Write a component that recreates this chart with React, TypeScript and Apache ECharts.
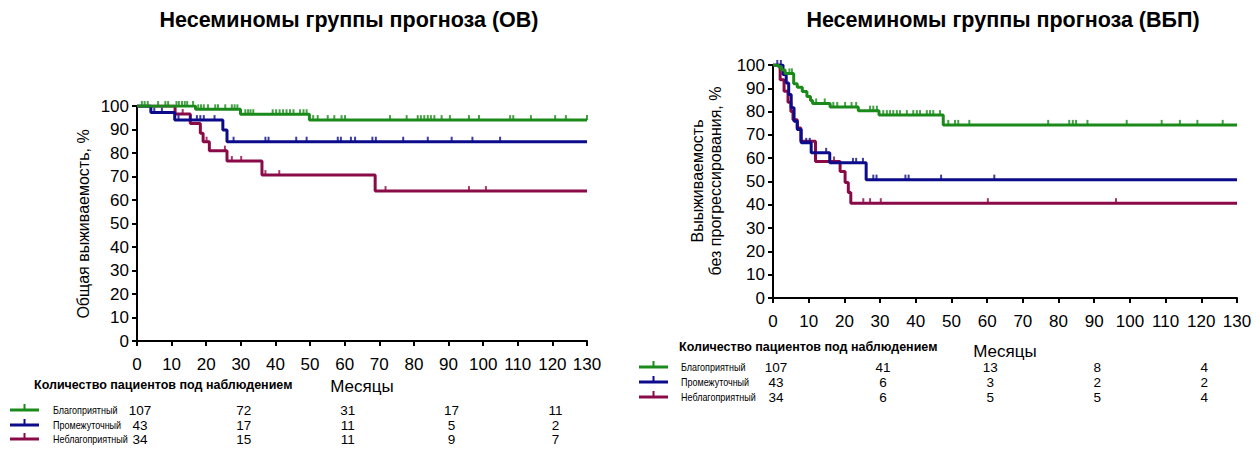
import React, { useEffect, useRef } from 'react';
import * as echarts from 'echarts';

// ---------- data ----------
const monthsMax = 130;
const tableMonths = [0, 30, 60, 90, 120];
const groupNames = ['Благоприятный', 'Промежуточный', 'Неблагоприятный'];

// Overall survival (ОВ)
const favOV = [[0, 100], [16.9, 98.6], [29.9, 96.5], [49.8, 94.0], [130, 94.0]];
const intOV = [[0, 100], [4.0, 97.2], [10.9, 94.0], [24.8, 89.8], [26.0, 84.8], [130, 84.8]];
const unfOV = [[0, 100], [11.0, 96.6], [15.4, 92.6], [18.3, 88.4], [19.1, 84.8], [20.9, 81.0], [26.0, 76.6], [36.1, 70.6], [68.8, 63.8], [130, 63.8]];
const favOVcens = [1.4, 2.2, 3.1, 6.1, 8.2, 9.0, 11.4, 12.1, 13.0, 13.8, 14.5, 16.2, 17.7, 18.5, 19.3, 20.5, 22.6, 23.4, 25.5, 27.4, 28.2, 29.0, 31.3, 32.1, 32.8, 33.6, 39.2, 40.2, 41.2, 42.2, 43.2, 44.2, 45.2, 47.1, 48.1, 49.0, 50.9, 52.2, 55.1, 57.0, 59.1, 60.1, 73.1, 77.9, 81.1, 82.0, 83.0, 84.0, 84.9, 85.9, 88.0, 90.4, 95.9, 98.8, 107.8, 108.7, 113.8, 120.8, 123.9, 130];
const intOVcens = [5.0, 7.2, 12.0, 15.4, 17.3, 18.3, 19.3, 22.4, 27.9, 37.1, 38.0, 46.0, 49.0, 58.0, 58.9, 61.8, 63.0, 68.0, 69.0, 76.9, 84.0, 90.9, 96.9, 104.9];
const unfOVcens = [13.2, 20.1, 25.4, 27.4, 30.1, 37.1, 41.1, 71.8, 95.9, 100.8];
const favOVrisk = [107, 72, 31, 17, 11];
const intOVrisk = [43, 17, 11, 5, 2];
const unfOVrisk = [34, 15, 11, 9, 7];

// Progression-free survival (ВБП)
const favPFS = [[0, 100], [1.5, 99.3], [2.4, 97.9], [3.4, 96.4], [5.8, 92.0], [6.8, 90.5], [8.2, 88.6], [9.5, 86.5], [10.5, 84.8], [11.1, 83.5], [16.0, 82.0], [23.9, 80.4], [29.7, 78.5], [47.7, 74.3], [130, 74.3]];
const intPFS = [[0, 100], [2.8, 95.9], [3.7, 92.3], [4.4, 87.3], [5.1, 81.6], [5.9, 75.9], [6.8, 72.3], [7.9, 66.6], [10.7, 62.3], [15.9, 58.0], [26.1, 50.8], [130, 50.8]];
const unfPFS = [[0, 100], [2.0, 93.7], [3.1, 88.7], [4.2, 84.0], [5.0, 80.0], [5.6, 76.5], [6.8, 73.0], [7.8, 67.3], [11.9, 58.6], [18.8, 54.3], [20.2, 49.6], [21.1, 45.3], [21.8, 40.7], [130, 40.7]];
const favPFScens = [4.6, 5.3, 12.1, 14.5, 16.9, 18.0, 20.2, 22.0, 23.3, 27.2, 28.1, 29.1, 30.9, 31.9, 32.8, 33.7, 34.7, 35.6, 37.5, 39.3, 40.3, 41.2, 43.1, 44.0, 44.9, 46.8, 49.1, 51.0, 51.9, 55.0, 77.1, 83.0, 84.0, 84.9, 88.1, 99.1, 108.9, 114.0, 118.9, 126.0];
const intPFScens = [1.2, 2.2, 9.3, 10.3, 14.9, 22.4, 23.3, 25.2, 28.1, 29.0, 37.1, 38.0, 47.1, 62.0];
const unfPFScens = [17.1, 25.3, 27.2, 30.2, 60.2, 96.1];
const favPFSrisk = [107, 41, 13, 8, 4];
const intPFSrisk = [43, 6, 3, 2, 2];
const unfPFSrisk = [34, 6, 5, 5, 4];

// ---------- styles ----------
const GREEN = '#1a8a1a';
const BLUE = '#0b0b8c';
const RED = '#8a0a48';
const COLORS = [GREEN, BLUE, RED];
const FONT = 'Liberation Sans, Arial, sans-serif';

function levelAt(steps: number[][], t: number) {
  let v = steps[0][1];
  for (const [x, y] of steps) if (x <= t) v = y;
  return v;
}

function stepSeries(steps: number[][], color: string, gi: number, z: number) {
  return {
    type: 'line', step: 'end', xAxisIndex: gi, yAxisIndex: gi, data: steps,
    showSymbol: false, symbol: 'none', silent: true, z,
    lineStyle: { color, width: 3 },
  };
}
function censSeries(steps: number[][], cens: number[], color: string, gi: number, z: number) {
  return {
    type: 'scatter', xAxisIndex: gi, yAxisIndex: gi, silent: true, z: z + 1,
    data: cens.map((t) => [t, levelAt(steps, t)]),
    symbol: 'rect', symbolSize: [2, 5], symbolOffset: [0, -2.5],
    itemStyle: { color },
  };
}

const axisCommon = {
  axisLine: { show: true, onZero: false, lineStyle: { color: '#000', width: 2 } },
  axisTick: { show: true, length: 5, lineStyle: { color: '#000', width: 2 } },
  splitLine: { show: false },
  axisLabel: { color: '#000', fontSize: 17, fontFamily: FONT },
};

export default function App() {
  const ref = useRef<HTMLDivElement>(null);
  useEffect(() => {
    document.body.style.margin = '0';
    const chart = echarts.init(ref.current!, undefined, { renderer: 'svg' });
    const grids = [
      { left: 137, top: 106, width: 450, height: 235 },
      { left: 773, top: 65, width: 464, height: 233 },
    ];
    const option: any = {
      animation: false,
      grid: grids,
      xAxis: [0, 1].map((i) => ({
        type: 'value', gridIndex: i, min: 0, max: monthsMax, interval: 10, ...axisCommon,
        axisLabel: { ...axisCommon.axisLabel, margin: 15 },
      })),
      yAxis: [0, 1].map((i) => ({
        type: 'value', gridIndex: i, min: 0, max: 100, interval: 10, ...axisCommon,
        axisLabel: { ...axisCommon.axisLabel, margin: 8 },
      })),
      series: [
        stepSeries(unfOV, RED, 0, 2), censSeries(unfOV, unfOVcens, RED, 0, 2),
        stepSeries(intOV, BLUE, 0, 4), censSeries(intOV, intOVcens, BLUE, 0, 4),
        stepSeries(favOV, GREEN, 0, 6), censSeries(favOV, favOVcens, GREEN, 0, 6),
        stepSeries(unfPFS, RED, 1, 2), censSeries(unfPFS, unfPFScens, RED, 1, 2),
        stepSeries(intPFS, BLUE, 1, 4), censSeries(intPFS, intPFScens, BLUE, 1, 4),
        stepSeries(favPFS, GREEN, 1, 6), censSeries(favPFS, favPFScens, GREEN, 1, 6),
      ],
    };
    chart.setOption(option);

    const g: any[] = [];
    const txt = (x: number, y: number, text: string, size: number, extra: any = {}) =>
      g.push({
        type: 'text', x, y, silent: true, ...extra,
        style: { text, fill: '#000', fontSize: size, fontFamily: FONT, align: 'center', verticalAlign: 'middle', ...(extra.style || {}) },
      });

    // titles
    txt(349, 20, 'Несеминомы группы прогноза (ОВ)', 21.5, { style: { fontWeight: 'bold' } });
    txt(1003, 20, 'Несеминомы группы прогноза (ВБП)', 21.5, { style: { fontWeight: 'bold' } });
    // y axis names
    txt(83, 224, 'Общая выживаемость, %', 16, { rotation: Math.PI / 2 });
    txt(706, 181, 'Выыживаемость\nбез прогрессирования, %', 16, { rotation: Math.PI / 2, style: { lineHeight: 18 } });

    const tables = [
      { gi: 0, headX: 34, headY: 385, monY: 386, rowsY: [410, 425, 439], legX: 10, labX: 53, rows: [favOVrisk, intOVrisk, unfOVrisk] },
      { gi: 1, headX: 679, headY: 347, monY: 351, rowsY: [367, 382, 397], legX: 639, labX: 681, rows: [favPFSrisk, intPFSrisk, unfPFSrisk] },
    ];
    tables.forEach((tb) => {
      const mx = chart.convertToPixel({ gridIndex: tb.gi } as any, [65, 0]) as number[];
      txt(tb.headX, tb.headY, 'Количество пациентов под наблюдением', 12.5, { style: { fontWeight: 'bold', align: 'left' } });
      txt(mx[0], tb.monY, 'Месяцы', 17);
      tb.rows.forEach((vals, r) => {
        const y = tb.rowsY[r];
        const c = COLORS[r];
        g.push({ type: 'line', silent: true, shape: { x1: tb.legX, y1: y, x2: tb.legX + 29, y2: y }, style: { stroke: c, lineWidth: 3 } });
        g.push({ type: 'line', silent: true, shape: { x1: tb.legX + 14.5, y1: y, x2: tb.legX + 14.5, y2: y - 6 }, style: { stroke: c, lineWidth: 2 } });
        txt(tb.labX, y, groupNames[r], 10, { scaleX: 0.9, style: { align: 'left' } });
        vals.forEach((v, k) => {
          const p = chart.convertToPixel({ gridIndex: tb.gi } as any, [tableMonths[k], 0]) as number[];
          txt(p[0] + 3, y, String(v), 13.5);
        });
      });
    });
    chart.setOption({ graphic: g });
    return () => chart.dispose();
  }, []);
  return <div ref={ref} style={{ width: 1260, height: 449 }} />;
}
